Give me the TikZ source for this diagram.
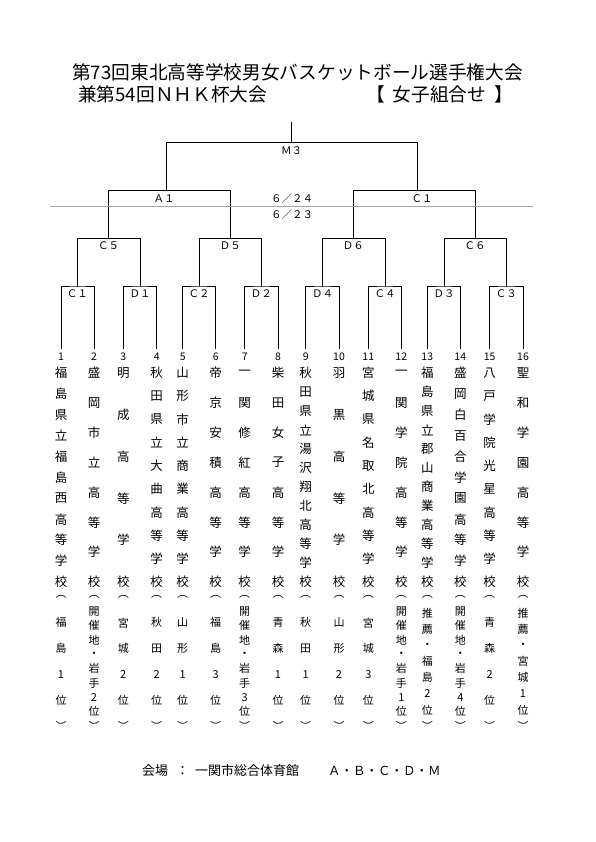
\documentclass[tikz,border=0pt]{standalone}
\usepackage{fontspec}
\setmainfont{Noto Sans CJK JP}
\usetikzlibrary{calc}

\tikzset{
  bline/.style={line width=0.8pt},
  mlabel/.style={font=\fontsize{10.5}{11}\selectfont,inner sep=0pt},
  numlabel/.style={font=\fontsize{10.5}{11}\selectfont,inner sep=0pt},
  namechar/.style={font=\fontsize{12.5}{13}\selectfont,inner sep=0pt},
  notechar/.style={font=\fontsize{11}{11}\selectfont,inner sep=0pt},
  titletext/.style={font=\fontsize{18.7}{20}\selectfont,inner sep=0pt,anchor=west},
  venuetext/.style={font=\fontsize{13}{14}\selectfont,inner sep=0pt,anchor=west}
}

% one team column: number, x, school name, note
\newcommand\team[4]{%
  \coordinate (t#1) at (#2,349);
  \node[numlabel] (no#1) at (#2,357) {#1};
  \foreach \ch [count=\k] in {#3} {\xdef\nchars{\k}}
  \foreach \ch [count=\k] in {#3} {
    \pgfmathsetmacro\yy{373+209*(\k-1)/(\nchars-1)}
    \node[namechar] (n#1-\k) at (#2,\yy) {\ch};
  }
  \foreach \ch [count=\k] in {#4} {\xdef\nchars{\k}}
  \foreach \ch [count=\k] in {#4} {
    \pgfmathsetmacro\yy{597+129*(\k-1)/(\nchars-1)}
    \node[notechar] (p#1-\k) at (#2,\yy) {\ch};
  }
}

\begin{document}
\begin{tikzpicture}[x=1pt,y=-1pt]
  \useasboundingbox (0,0) rectangle (595,842);

  \node[titletext] (title1) at (72,72) {第73回東北高等学校男女バスケットボール選手権大会};
  \node[titletext] (title2) at (78,94) {兼第54回ＮＨＫ杯大会};
  \node[titletext] (title3) at (366,94) {【\hspace{8pt}女子組合せ\hspace{8pt}】};

  % teams
  \team{1}{61}{福,島,県,立,福,島,西,高,等,学,校}{︵,福,島,1,位,︶}
  \team{2}{94}{盛,岡,市,立,高,等,学,校}{︵,開,催,地,・,岩,手,2,位,︶}
  \team{3}{123.3}{明,成,高,等,学,校}{︵,宮,城,2,位,︶}
  \team{4}{156.7}{秋,田,県,立,大,曲,高,等,学,校}{︵,秋,田,2,位,︶}
  \team{5}{182.7}{山,形,市,立,商,業,高,等,学,校}{︵,山,形,1,位,︶}
  \team{6}{215.7}{帝,京,安,積,高,等,学,校}{︵,福,島,3,位,︶}
  \team{7}{244.7}{一,関,修,紅,高,等,学,校}{︵,開,催,地,・,岩,手,3,位,︶}
  \team{8}{278}{柴,田,女,子,高,等,学,校}{︵,青,森,1,位,︶}
  \team{9}{305.7}{秋,田,県,立,湯,沢,翔,北,高,等,学,校}{︵,秋,田,1,位,︶}
  \team{10}{339}{羽,黒,高,等,学,校}{︵,山,形,2,位,︶}
  \team{11}{368.3}{宮,城,県,名,取,北,高,等,学,校}{︵,宮,城,3,位,︶}
  \team{12}{401.3}{一,関,学,院,高,等,学,校}{︵,開,催,地,・,岩,手,1,位,︶}
  \team{13}{427.3}{福,島,県,立,郡,山,商,業,高,等,学,校}{︵,推,薦,・,福,島,2,位,︶}
  \team{14}{460.3}{盛,岡,白,百,合,学,園,高,等,学,校}{︵,開,催,地,・,岩,手,4,位,︶}
  \team{15}{489.7}{八,戸,学,院,光,星,高,等,学,校}{︵,青,森,2,位,︶}
  \team{16}{523}{聖,和,学,園,高,等,学,校}{︵,推,薦,・,宮,城,1,位,︶}

  % first round
  \foreach \i/\x/\t in {1/77.3/Ｃ１,2/140/Ｄ１,3/199/Ｃ２,4/261.3/Ｄ２,
                        5/322.7/Ｄ４,6/385/Ｃ４,7/444/Ｄ３,8/506.3/Ｃ３} {
    \coordinate (r1-\i) at (\x,286);
    \node[mlabel] (l1-\i) at (\x,294) {\t};
  }
  \foreach \i [evaluate=\i as \a using int(2*\i-1),
               evaluate=\i as \b using int(2*\i)] in {1,...,8}
    \draw[bline] (t\a) |- (r1-\i) -| (t\b);

  % second round
  \foreach \i/\x/\t in {1/108.7/Ｃ５,2/230.3/Ｄ５,3/353.3/Ｄ６,4/475/Ｃ６} {
    \coordinate (r2-\i) at (\x,238.3);
    \node[mlabel] (l2-\i) at (\x,246) {\t};
  }
  \foreach \i [evaluate=\i as \a using int(2*\i-1),
               evaluate=\i as \b using int(2*\i)] in {1,...,4}
    \draw[bline] (r1-\a) |- (r2-\i) -| (r1-\b);

  % semifinals
  \coordinate (r3-1) at (166.7,190.7);
  \coordinate (r3-2) at (417.3,190.7);
  \node[mlabel] (l3-1) at (164,198.5) {Ａ１};
  \node[mlabel] (l3-2) at (422,198.5) {Ｃ１};
  \draw[bline] (r2-1) |- (r3-1) -| (r2-2);
  \draw[bline] (r2-3) |- (r3-2) -| (r2-4);

  % final
  \coordinate (fin) at (291.7,142.7);
  \coordinate (top) at (291.7,121.7);
  \node[mlabel] (lfin) at (291.7,150.5) {Ｍ３};
  \draw[bline] (r3-1) |- (fin) -| (r3-2);
  \draw[bline] (fin) -- (top);

  % day line
  \coordinate (gl) at (50,206);
  \coordinate (gr) at (533,206);
  \draw[gray!70,line width=0.5pt] (gl) -- (gr);
  \node[mlabel] (d24) at (292,198.5) {６／２４};
  \node[mlabel] (d23) at (292,214.5) {６／２３};

  % venue
  \node[venuetext] (venue) at (142,771) {会場};
  \node[venuetext] (colon) at (176,771) {：};
  \node[venuetext] (hall) at (195,771) {一関市総合体育館};
  \node[venuetext,font=\fontsize{12.5}{13}\selectfont] (courts) at (328,771) {Ａ・Ｂ・Ｃ・Ｄ・Ｍ};
\end{tikzpicture}
\end{document}
